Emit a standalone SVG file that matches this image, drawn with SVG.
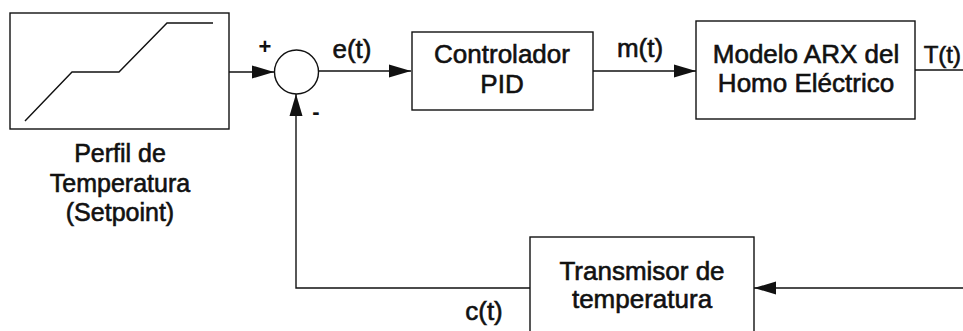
<svg xmlns="http://www.w3.org/2000/svg" width="963" height="331" viewBox="0 0 963 331">
<style>
  .box{fill:#fff;stroke:#111;stroke-width:1.4}
  .ln{fill:none;stroke:#111;stroke-width:1.4}
  .t{font-family:"Liberation Sans",Arial,sans-serif;font-size:26px;fill:#111;stroke:#111;stroke-width:0.6;text-anchor:middle}
  .p{font-size:25px}
  .s{font-family:"Liberation Sans",Arial,sans-serif;font-size:22px;font-weight:bold;fill:#111;text-anchor:middle}
</style>
<defs>
  <marker id="ah" markerUnits="userSpaceOnUse" markerWidth="22" markerHeight="14" refX="22" refY="7" orient="auto">
    <path d="M0,0.5 L22,7 L0,13.5 z" fill="#111"/>
  </marker>
</defs>
<rect width="963" height="331" fill="#fff"/>
<g id="connectors">
  <line class="ln" x1="229" y1="72" x2="274" y2="72" marker-end="url(#ah)"/>
  <line class="ln" x1="319" y1="71" x2="411" y2="71" marker-end="url(#ah)"/>
  <line class="ln" x1="593" y1="71" x2="696" y2="71" marker-end="url(#ah)"/>
  <line class="ln" x1="915" y1="70" x2="963" y2="70"/>
  <line class="ln" x1="963" y1="288" x2="754" y2="288" marker-end="url(#ah)"/>
  <polyline class="ln" points="530,288 296,288 296,94" marker-end="url(#ah)"/>
  <text class="t" x="352" y="58">e(t)</text>
  <text class="t" x="640" y="57">m(t)</text>
  <text class="t" x="961" y="63" style="text-anchor:end;font-size:24px">T(t)</text>
  <text class="t" x="484" y="320">c(t)</text>
</g>
<g id="profile">
  <rect class="box" x="10" y="13" width="219" height="116"/>
  <polyline class="ln" points="25,121 72,72 119,72 167,23 213,23"/>
  <text class="t p" x="120" y="162">Perfil de</text>
  <text class="t p" x="120" y="192">Temperatura</text>
  <text class="t p" x="120" y="221">(Setpoint)</text>
</g>
<g id="sum">
  <circle class="box" cx="296.5" cy="72" r="22"/>
  <text class="s" x="265" y="54">+</text>
  <text class="s" x="316" y="119">-</text>
</g>
<g id="pid">
  <rect class="box" x="412" y="32" width="181" height="78"/>
  <text class="t" x="502" y="63">Controlador</text>
  <text class="t" x="502" y="93">PID</text>
</g>
<g id="arx">
  <rect class="box" x="696" y="21" width="219" height="98"/>
  <text class="t" x="806" y="63">Modelo ARX del</text>
  <text class="t" x="806" y="92">Homo Eléctrico</text>
</g>
<g id="transmisor">
  <rect class="box" x="530" y="237" width="224" height="110"/>
  <text class="t" x="642" y="280">Transmisor de</text>
  <text class="t" x="642" y="308">temperatura</text>
</g>
</svg>
